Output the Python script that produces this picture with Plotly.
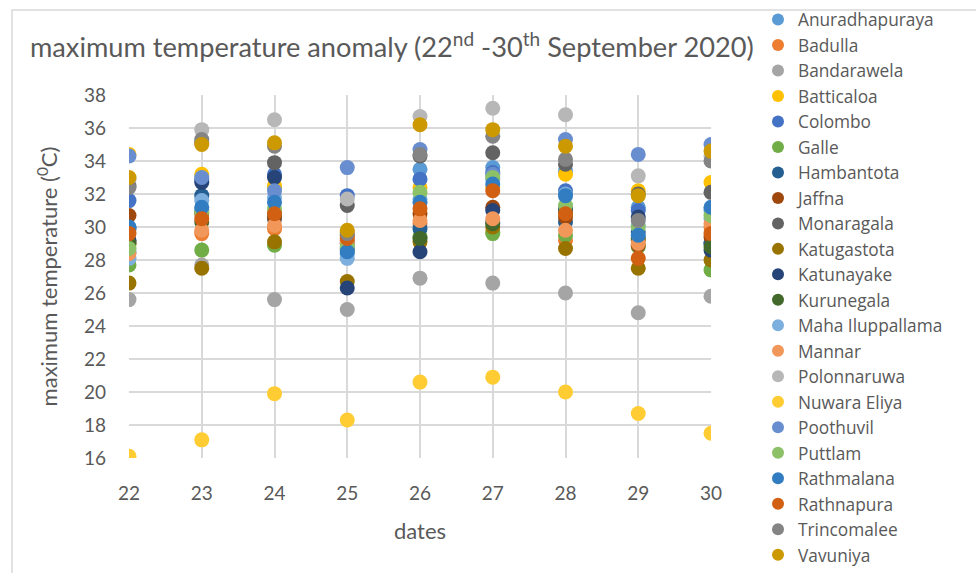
import plotly.graph_objects as go

dates = [22, 23, 24, 25, 26, 27, 28, 29, 30]

stations = ["Anuradhapuraya", "Badulla", "Bandarawela", "Batticaloa", "Colombo", "Galle",
            "Hambantota", "Jaffna", "Monaragala", "Katugastota", "Katunayake", "Kurunegala",
            "Maha Iluppallama", "Mannar", "Polonnaruwa", "Nuwara Eliya", "Poothuvil",
            "Puttlam", "Rathmalana", "Rathnapura", "Trincomalee", "Vavuniya"]

colors = ["#5B9BD5", "#ED7D31", "#A5A5A5", "#FFC000", "#4472C4", "#70AD47",
          "#255E91", "#9E480E", "#636363", "#997300", "#264478", "#43682B",
          "#7CAFDD", "#F1975A", "#B7B7B7", "#FFCD33", "#698ED0",
          "#8CC168", "#327DC2", "#D26012", "#848484", "#CC9A00"]

anuradhapuraya = [28.5, 31.0, 32.4, 28.4, 33.5, 33.6, 33.4, 31.2, 31.0]
badulla = [29.0, 29.6, 29.9, 29.2, 30.2, 29.7, 29.2, 29.2, 30.0]
bandarawela = [25.6, 27.7, 25.6, 25.0, 26.9, 26.6, 26.0, 24.8, 25.8]
batticaloa = [34.4, 33.2, 32.5, 29.7, 32.4, 32.4, 33.2, 32.2, 32.7]
colombo = [31.6, 32.9, 33.2, 31.9, 32.9, 33.3, 32.2, 31.0, 29.0]
galle = [27.7, 28.6, 28.9, 28.6, 29.4, 29.6, 29.5, 28.8, 27.4]
hambantota = [29.9, 31.9, 30.5, 28.7, 29.9, 30.3, 30.3, 29.7, 29.0]
jaffna = [30.7, 30.8, 30.6, 29.5, 30.8, 31.2, 30.6, 28.9, 29.4]
monaragala = [32.5, 35.1, 33.9, 31.3, 34.3, 34.5, 33.8, 32.0, 32.1]
katugastota = [26.6, 27.5, 29.1, 26.7, 29.1, 30.0, 28.7, 27.5, 28.0]
katunayake = [29.2, 32.7, 33.0, 26.3, 28.5, 31.0, 31.1, 30.6, 28.6]
kurunegala = [29.0, 30.3, 30.8, 29.0, 29.3, 30.2, 30.9, 29.3, 28.8]
maha_iluppallama = [28.1, 31.6, 31.8, 28.1, 31.7, 32.9, 32.0, 30.1, 30.5]
mannar = [28.4, 29.8, 30.1, 29.0, 30.4, 30.5, 29.8, 29.0, 30.2]
polonnaruwa = [32.9, 35.9, 36.5, 31.7, 36.7, 37.2, 36.8, 33.1, 34.3]
nuwara_eliya = [16.1, 17.1, 19.9, 18.3, 20.6, 20.9, 20.0, 18.7, 17.5]
poothuvil = [34.3, 33.0, 32.2, 33.6, 34.7, 33.2, 35.3, 34.4, 35.0]
puttlam = [28.7, 30.9, 31.1, 28.8, 32.1, 33.0, 31.3, 30.0, 30.7]
rathmalana = [30.0, 31.2, 31.5, 28.5, 31.5, 32.6, 31.9, 29.5, 31.2]
rathnapura = [29.6, 30.5, 30.8, 29.3, 31.1, 32.2, 30.8, 28.1, 29.6]
trincomalee = [32.4, 35.3, 34.9, 29.6, 34.4, 35.5, 34.1, 30.4, 34.0]
vavuniya = [33.0, 35.0, 35.1, 29.8, 36.2, 35.9, 34.9, 31.9, 34.6]

series = [anuradhapuraya, badulla, bandarawela, batticaloa, colombo, galle,
          hambantota, jaffna, monaragala, katugastota, katunayake, kurunegala,
          maha_iluppallama, mannar, polonnaruwa, nuwara_eliya, poothuvil,
          puttlam, rathmalana, rathnapura, trincomalee, vavuniya]

FONT = "Lato"
LFONT = "Open Sans"
GREY = "#595959"

fig = go.Figure()
for name, vals, col in zip(stations, series, colors):
    fig.add_trace(go.Scatter(
        x=dates, y=vals, mode="markers", name=name,
        marker=dict(size=15, color=col, line=dict(width=0)),
    ))

fig.update_layout(
    width=976, height=573,
    margin=dict(l=129, r=265, t=95, b=115, autoexpand=False),
    paper_bgcolor="white", plot_bgcolor="white",
    font=dict(family=FONT, color=GREY, size=17),
    showlegend=True,
    legend=dict(
        x=(758 - 129) / 582, xref="paper", xanchor="left",
        y=0.997, yref="container", yanchor="top",
        font=dict(family=LFONT, size=17.3, color=GREY),
        itemsizing="constant", bgcolor="rgba(0,0,0,0)",
        tracegroupgap=0, itemwidth=30, borderwidth=0,
        maxheight=900,
    ),
    xaxis=dict(
        range=[22, 30], tickvals=dates, ticktext=[str(d) for d in dates],
        showgrid=True, gridcolor="#D9D9D9", gridwidth=1.5,
        zeroline=False, showline=False, ticks="",
        ticklabelstandoff=22,
        tickfont=dict(family=FONT, size=19, color=GREY),
        title=dict(text="dates", font=dict(family=FONT, size=22, color=GREY), standoff=20),
    ),
    yaxis=dict(
        range=[16, 38], dtick=2,
        showgrid=True, gridcolor="#D9D9D9", gridwidth=1.5,
        zeroline=False, showline=False, ticks="",
        ticklabelstandoff=22,
        tickfont=dict(family=FONT, size=19, color=GREY),
        title=dict(text="maximum temperature (<sup>0</sup>C)",
                   font=dict(family=FONT, size=22, color=GREY), standoff=20),
    ),
    annotations=[dict(
        text="maximum temperature anomaly (22<sup>nd</sup> -30<sup>th</sup> September 2020)",
        xref="paper", yref="paper", x=(392 - 129) / 582, y=(458 - 45) / 363,
        xanchor="center", yanchor="middle", showarrow=False,
        font=dict(family=FONT, size=27.2, color=GREY),
    )],
    shapes=[dict(
        type="rect", xref="paper", yref="paper",
        x0=(12 - 129) / 582, x1=(990 - 129) / 582,
        y0=(458 - 590) / 363, y1=(458 - 10) / 363,
        line=dict(color="#D9D9D9", width=1.5), fillcolor="rgba(0,0,0,0)", layer="below",
    )],
)

fig.write_html("out.html", config={"displayModeBar": False},
               post_script="document.body.style.margin='0px';")
